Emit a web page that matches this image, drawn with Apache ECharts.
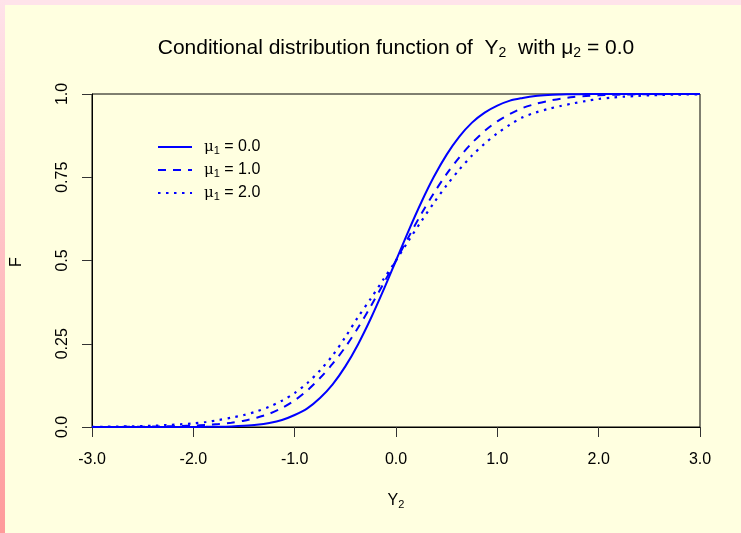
<!DOCTYPE html>
<html>
<head>
<meta charset="utf-8">
<script src="https://cdn.jsdelivr.net/npm/echarts@6/dist/echarts.min.js"></script>
<style>
html,body{margin:0;padding:0;background:#ffffe0;}
#c{width:741px;height:533px;}
</style>
</head>
<body>
<div id="c"></div>
<script>
const xs = [-3,-2.875,-2.75,-2.625,-2.5,-2.375,-2.25,-2.125,-2,-1.875,-1.75,-1.625,-1.5,-1.375,-1.25,-1.125,-1,-0.875,-0.75,-0.625,-0.5,-0.375,-0.25,-0.125,
            0,0.125,0.25,0.375,0.5,0.625,0.75,0.875,1,1.125,1.25,1.375,1.5,1.625,1.75,1.875,2,2.125,2.25,2.375,2.5,2.625,2.75,2.875,3];
const mu0 = [0,0,0,0,0,0,0,0.0001,0.0002,0.0004,0.0008,0.0017,0.0035,0.0065,0.012,0.021,0.036,0.056,0.087,0.128,0.182,0.248,0.325,0.41,
             0.5,0.59,0.675,0.752,0.818,0.872,0.914,0.944,0.965,0.98,0.988,0.994,0.997,0.9984,0.9993,0.9997,0.9999,1,1,1,1,1,1,1,1];
const mu1 = [0.0001,0.0002,0.0003,0.0005,0.0008,0.0013,0.002,0.003,0.004,0.006,0.009,0.013,0.019,0.028,0.04,0.057,0.08,0.11,0.147,0.19,0.24,0.298,0.362,0.43,
             0.5,0.571,0.64,0.703,0.76,0.81,0.853,0.889,0.918,0.94,0.958,0.97,0.979,0.986,0.991,0.994,0.996,0.9975,0.9985,0.999,0.9994,0.9996,0.9998,0.9999,1];
const mu2 = [0.0005,0.0008,0.0013,0.002,0.003,0.004,0.006,0.008,0.011,0.015,0.021,0.028,0.036,0.047,0.061,0.079,0.102,0.132,0.17,0.215,0.27,0.33,0.385,0.443,
             0.5,0.56,0.618,0.674,0.726,0.773,0.815,0.851,0.882,0.908,0.93,0.944,0.955,0.964,0.972,0.979,0.985,0.989,0.992,0.994,0.996,0.997,0.998,0.9985,0.999];
const seriesNames = ['μ1 = 0.0','μ1 = 1.0','μ1 = 2.0'];
const xTickLabels = {'-3':'-3.0','-2':'-2.0','-1':'-1.0','0':'0.0','1':'1.0','2':'2.0','3':'3.0'};
const yTickLabels = {'0':'0.0','0.25':'0.25','0.5':'0.5','0.75':'0.75','1':'1.0'};

const FONT = 'Liberation Sans, Arial, sans-serif';
const BLUE = '#0000ff';
const pairs = arr => xs.map((x,i)=>[x,arr[i]]);
const chart = echarts.init(document.getElementById('c'));
chart.setOption({
  backgroundColor: '#ffffe0',
  animation: false,
  graphic: [
    {type:'rect', z:-10, shape:{x:0,y:0,width:741,height:5}, style:{fill:'#ffe3ea'}},
    {type:'rect', z:-10, shape:{x:0,y:0,width:5,height:533}, style:{fill:new echarts.graphic.LinearGradient(0,0,0,1,[{offset:0,color:'#ffe3ea'},{offset:1,color:'#ff9a9a'}])}},
    {type:'text', x:396, y:37, style:{
      text:'{a|Conditional distribution function of  Y}{s|2}{a|  with }{a|μ}{s|2}{a| = 0.0}',
      align:'center',
      rich:{a:{fontFamily:FONT,fontSize:21,fill:'#000',lineHeight:23},
            s:{fontFamily:FONT,fontSize:14,fill:'#000',lineHeight:23,padding:[10,0,0,0]}}
    }},
    {type:'text', x:396, y:492, style:{
      text:'{a|Y}{s|2}', align:'center',
      rich:{a:{fontFamily:FONT,fontSize:16,fill:'#000',lineHeight:18},
            s:{fontFamily:FONT,fontSize:11,fill:'#000',lineHeight:18,padding:[8,0,0,0]}}
    }},
    {type:'text', x:17, y:262, rotation:Math.PI/2, style:{
      text:'F', align:'center', verticalAlign:'middle', fontFamily:FONT, fontSize:16, fill:'#000'
    }}
  ],
  grid: {left:92, right:41, top:94, bottom:106, show:true, borderColor:'#000', borderWidth:1, backgroundColor:'transparent'},
  legend: {
    orient:'vertical', left:157, top:138, itemWidth:34, itemHeight:14, itemGap:5,
    data: seriesNames,
    itemStyle:{opacity:0, color:'transparent', borderWidth:0},
    formatter: name => '{m|μ}{s|1}{t|' + name.slice(2) + '}',
    textStyle:{
      rich:{
        m:{fontFamily:'DejaVu Serif, serif',fontSize:15,color:'#000',padding:[0,0,0,7],lineHeight:16},
        s:{fontFamily:FONT,fontSize:11,color:'#000',padding:[7,0,0,0],lineHeight:16},
        t:{fontFamily:FONT,fontSize:16,color:'#000',lineHeight:16}
      }
    },
    padding:0
  },
  xAxis: {
    type:'value', min:-3, max:3, interval:1,
    axisLine:{show:true, onZero:false, lineStyle:{color:'#000',width:1}},
    axisTick:{show:true, length:10, lineStyle:{color:'#333'}},
    axisLabel:{margin:25, fontFamily:FONT, fontSize:16, color:'#000', formatter:v=>xTickLabels[String(v)]},
    splitLine:{show:false}
  },
  yAxis: {
    type:'value', min:0, max:1, interval:0.25,
    axisLine:{show:true, onZero:false, lineStyle:{color:'#000',width:1}},
    axisTick:{show:true, length:10, lineStyle:{color:'#333'}},
    axisLabel:{margin:21, rotate:90, fontFamily:FONT, fontSize:16, color:'#000', formatter:v=>yTickLabels[String(v)]},
    splitLine:{show:false}
  },
  series: [
    {name:seriesNames[0], type:'line', data:pairs(mu0), symbol:'none', smooth:0.3, lineStyle:{color:BLUE, width:2, type:'solid'}, itemStyle:{color:BLUE}},
    {name:seriesNames[1], type:'line', data:pairs(mu1), symbol:'none', smooth:0.3, lineStyle:{color:BLUE, width:2, type:[8,7]}, itemStyle:{color:BLUE}},
    {name:seriesNames[2], type:'line', data:pairs(mu2), symbol:'none', smooth:0.3, lineStyle:{color:BLUE, width:2.2, type:[2.5,5.5]}, itemStyle:{color:BLUE}}
  ]
});
</script>
</body>
</html>
